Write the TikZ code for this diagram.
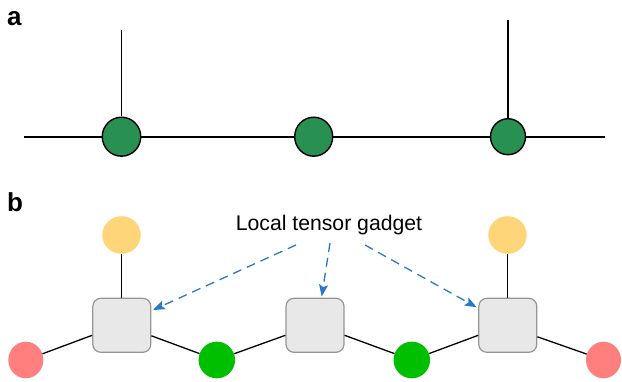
\documentclass[tikz,border=0pt]{standalone}
\usepackage{fontspec}
\setmainfont{Liberation Sans}
\usetikzlibrary{shapes.geometric,arrows.meta}
\definecolor{agreen}{RGB}{40,145,82}
\definecolor{bgreen}{RGB}{0,190,0}
\definecolor{bred}{RGB}{255,127,127}
\definecolor{byellow}{RGB}{255,213,122}
\definecolor{boxfill}{RGB}{232,232,232}
\definecolor{boxdraw}{RGB}{150,150,150}
\definecolor{arrblue}{RGB}{41,121,201}
\tikzset{
  acirc/.style={ellipse,draw=black,line width=1.4pt,fill=agreen,inner sep=0pt},
  bcirc/.style={ellipse,draw=none,inner sep=0pt},
  gadget/.style={rectangle,rounded corners=8pt,draw=boxdraw,line width=1.2pt,fill=boxfill,minimum width=58pt,minimum height=54pt,inner sep=0pt},
  aline/.style={line width=1.8pt,black},
  bline/.style={line width=1.3pt,black},
  garrow/.style={arrblue,line width=1.3pt,dash pattern=on 9pt off 6pt,-{Stealth[length=12pt,width=9pt,inset=2.5pt]}},
  plabel/.style={font=\fontsize{26}{28}\selectfont\bfseries,anchor=base west,inner sep=0pt}
}
\begin{document}
\begin{tikzpicture}[x=1pt,y=-1pt]
\useasboundingbox (0,0) rectangle (622,382);
% panel a
\node[plabel] (la) at (7,26) {a};
\node[acirc,minimum width=38.5pt,minimum height=39pt] (a1) at (121.5,136.7) {};
\node[acirc,minimum width=38pt,minimum height=39pt] (a2) at (313.7,136.7) {};
\node[acirc,minimum width=35pt,minimum height=36pt] (a3) at (508,136.7) {};
\coordinate (aL) at (23.5,136.7);
\coordinate (aR) at (605,136.7);
\coordinate (at1) at (121.5,30);
\coordinate (at3) at (508,20);
\draw[aline] (aL) -- (a1) (a1) -- (a2) (a2) -- (a3) (a3) -- (aR);
\draw[aline] (at1) -- (a1);
\draw[aline] (at3) -- (a3);
% panel b
\node[plabel] (lb) at (7,212) {b};
\node[bcirc,fill=byellow,minimum width=38.5pt,minimum height=37.6pt] (y1) at (121.5,235) {};
\node[bcirc,fill=byellow,minimum width=38.5pt,minimum height=37.6pt] (y2) at (507.5,235) {};
\node[gadget] (b1) at (121.8,325.3) {};
\node[gadget] (b2) at (315,325.3) {};
\node[gadget] (b3) at (507.8,325.3) {};
\node[bcirc,fill=bred,minimum width=35pt,minimum height=36.6pt] (r1) at (25.8,360) {};
\node[bcirc,fill=bred,minimum width=35pt,minimum height=36.6pt] (r2) at (603.5,360) {};
\node[bcirc,fill=bgreen,minimum width=36.5pt,minimum height=36.7pt] (g1) at (216.8,360) {};
\node[bcirc,fill=bgreen,minimum width=36.5pt,minimum height=36.7pt] (g2) at (411.8,360) {};
\draw[bline] (y1) -- (y1 |- b1.north);
\draw[bline] (y2) -- (y2 |- b3.north);
\draw[bline] (r1) -- ([yshift=-10pt]b1.west);
\draw[bline] ([yshift=-10.5pt]b1.east) -- (g1);
\draw[bline] (g1) -- ([yshift=-10pt]b2.west);
\draw[bline] ([yshift=-10pt]b2.east) -- (g2);
\draw[bline] (g2) -- ([yshift=-10pt]b3.west);
\draw[bline] ([yshift=-11.5pt]b3.east) -- (r2);
\node[font=\fontsize{21.2}{24}\selectfont,anchor=base,inner sep=0pt] (T) at (329,230.9) {Local tensor gadget};
\coordinate (s1) at (296,245);
\coordinate (s2) at (330,243);
\coordinate (s3) at (365,245);
\coordinate (e1) at (153,310);
\coordinate (e2) at (321.7,296.5);
\coordinate (e3) at (476.7,307.3);
\draw[garrow] (s1) -- (e1);
\draw[garrow] (s2) -- (e2);
\draw[garrow] (s3) -- (e3);
\end{tikzpicture}
\end{document}
